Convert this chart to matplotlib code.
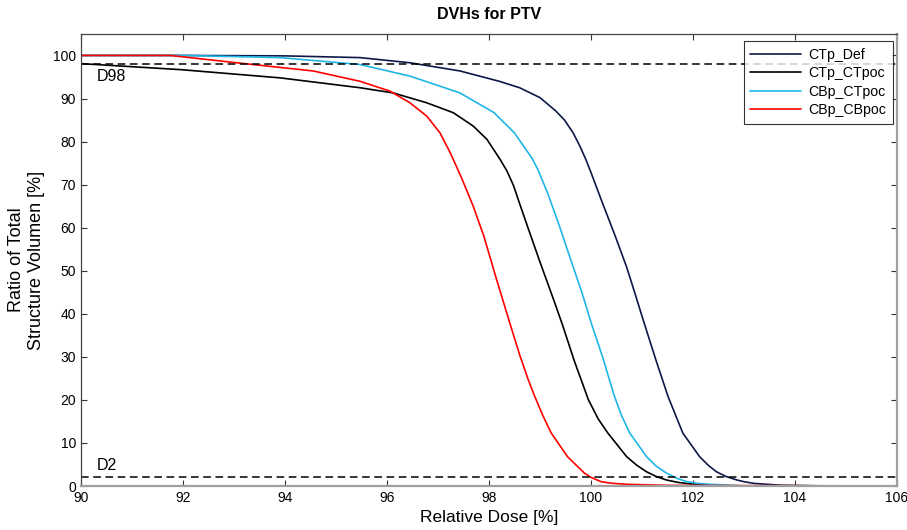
import matplotlib
matplotlib.use("Agg")
import matplotlib.pyplot as plt

plt.rcParams['font.family'] = ['Liberation Sans', 'DejaVu Sans']

# Dose-volume histogram curves (relative dose [%], volume [%])
def_dose = [90, 92, 94, 95.47, 96.45, 97.43, 98.2, 98.6, 99.0, 99.31, 99.48, 99.65, 99.78,
            99.9, 100.0, 100.2, 100.47, 100.7, 100.86, 101.03, 101.28, 101.51, 101.8, 102.13,
            102.3, 102.46, 102.65, 102.86, 103.0, 103.2, 103.7, 104.44]
def_vol = [100, 100, 99.9, 99.5, 98.3, 96.4, 94.0, 92.5, 90.2, 87.1, 85.0, 82.0, 79.0,
           75.8, 72.8, 66.5, 58.2, 50.8, 44.8, 38.3, 29.0, 20.8, 12.3, 6.8,
           4.8, 3.3, 2.2, 1.4, 1.0, 0.6, 0.2, 0.05]

ctpoc_dose = [90, 91.96, 93.9, 95.47, 96.12, 96.78, 97.3, 97.69, 97.96, 98.22, 98.35,
              98.48, 98.6, 98.74, 99.0, 99.26, 99.43, 99.68, 99.95, 100.14, 100.33, 100.7,
              100.9, 101.09, 101.28, 101.48, 101.7, 101.94, 102.6]
ctpoc_vol = [98.1, 96.7, 94.8, 92.5, 91.3, 89.0, 86.7, 83.6, 80.5, 75.8, 73.2,
             69.8, 65.6, 60.8, 52.0, 43.5, 37.8, 28.8, 20.0, 15.6, 12.3, 6.8,
             4.8, 3.3, 2.2, 1.4, 0.85, 0.5, 0.05]

cb_ctpoc_dose = [90, 92, 93.9, 95.47, 96.45, 97.43, 98.1, 98.5, 98.85, 98.97, 99.15,
                 99.36, 99.59, 99.82, 100.0, 100.24, 100.44, 100.6, 100.76, 101.09, 101.28,
                 101.48, 101.68, 101.88, 102.1, 102.33, 102.9]
cb_ctpoc_vol = [100, 100, 99.5, 97.9, 95.2, 91.3, 86.7, 82.0, 76.0, 73.2, 68.0,
                61.1, 53.0, 45.0, 38.0, 29.5, 21.5, 16.3, 12.3, 6.8, 4.6,
                3.0, 1.8, 1.0, 0.6, 0.4, 0.1]

cbpoc_dose = [90, 91.75, 93.05, 94.55, 95.47, 96.06, 96.45, 96.78, 97.04, 97.24, 97.46,
              97.69, 97.9, 98.15, 98.43, 98.6, 98.76, 98.89, 99.05, 99.22, 99.54,
              99.87, 100.0, 100.2, 100.4, 100.7, 101.5, 106]
cbpoc_vol = [100, 100, 98.3, 96.4, 94.0, 91.7, 89.0, 85.9, 82.0, 77.4, 71.6,
             65.0, 58.0, 47.9, 37.0, 30.5, 25.0, 21.0, 16.5, 12.3, 6.8,
             3.0, 2.0, 1.0, 0.65, 0.4, 0.15, 0.0]

series_names = ['CTp_Def', 'CTp_CTpoc', 'CBp_CTpoc', 'CBp_CBpoc']
series_colors = ['#0e1848', '#000000', '#1fb6e6', '#ff0000']

d98_level = 98
d2_level = 2

x_ticks = list(range(90, 107, 2))
y_ticks = list(range(0, 101, 10))

fig = plt.figure(figsize=(9.07, 5.30), dpi=100)
ax = fig.add_axes([0.0893, 0.083, 0.8997, 0.853])

curves = [(def_dose, def_vol), (ctpoc_dose, ctpoc_vol),
          (cb_ctpoc_dose, cb_ctpoc_vol), (cbpoc_dose, cbpoc_vol)]
for (xd, yd), name, col in zip(curves, series_names, series_colors):
    ax.plot(xd, yd, color=col, lw=1.2, label=name,
            solid_joinstyle='round', solid_capstyle='round')

ax.axhline(d98_level, color='black', lw=1.1, ls=(0, (5, 3)))
ax.axhline(d2_level, color='black', lw=1.1, ls=(0, (5, 3)))
ax.text(90.3, d98_level - 1.2, 'D98', fontsize=11.5, va='top', ha='left')
ax.text(90.3, d2_level + 1.0, 'D2', fontsize=11.5, va='bottom', ha='left')

ax.set_xlim(90, 106)
ax.set_ylim(0, 105)
ax.set_xticks(x_ticks)
ax.set_yticks(y_ticks)
ax.tick_params(direction='in', top=True, right=True, length=4, width=0.8,
               labelsize=10, colors='#333333', labelcolor='black')

for side in ['left', 'top']:
    ax.spines[side].set_color('#444444')
    ax.spines[side].set_linewidth(0.9)
for side in ['right', 'bottom']:
    ax.spines[side].set_color('#a0a0a0')
    ax.spines[side].set_linewidth(1.6)

ax.set_title('DVHs for PTV', fontsize=11.5, fontweight='bold', pad=11)
ax.set_xlabel('Relative Dose [%]', fontsize=12.5, labelpad=4)
ax.set_ylabel('Ratio of Total\nStructure Volumen [%]', fontsize=13, labelpad=6)

leg = ax.legend(loc='upper right', bbox_to_anchor=(0.998, 0.99), fontsize=10.2,
                frameon=True, fancybox=False, handlelength=3.6, borderpad=0.45,
                labelspacing=0.32, handletextpad=0.5, borderaxespad=0.2)
leg.get_frame().set_edgecolor('black')
leg.get_frame().set_linewidth(0.8)

fig.savefig('out.png', dpi=100)
